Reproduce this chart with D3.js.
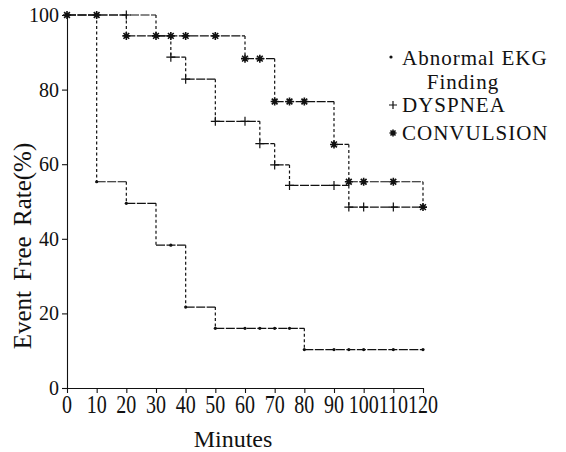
<!DOCTYPE html>
<html>
<head>
<meta charset="utf-8">
<script src="https://cdn.jsdelivr.net/npm/d3@7"></script>
<style>
  body { margin: 0; background: #fff; }
  svg { display: block; }
  text { font-family: "Liberation Serif", "DejaVu Serif", serif; fill: #111; }
</style>
</head>
<body>
<svg id="drawing_region"></svg>
<script>
// step data: time where each level starts, and the level (%)
const endTime = 120;

const ekgTimes  = [0, 10, 20, 30, 40, 50, 80];
const ekgValues = [100, 55.3, 49.5, 38.3, 21.7, 16, 10.3];
const ekgMarks  = [10, 20, 35, 40, 50, 60, 65, 70, 75, 80, 90, 95, 100, 110, 120];

const dysTimes  = [0, 30, 35, 40, 50, 65, 70, 75, 95];
const dysValues = [100, 94.4, 88.7, 82.8, 71.5, 65.5, 59.8, 54.3, 48.5];
const dysMarks  = [20, 35, 40, 50, 60, 65, 70, 75, 90, 95, 100, 110];

const conTimes  = [0, 20, 60, 70, 90, 95, 120];
const conValues = [100, 94.4, 88.3, 76.8, 65.3, 55.3, 48.5];
const conMarks  = [0, 10, 20, 30, 35, 40, 50, 60, 65, 70, 75, 80, 90, 95, 100, 110, 120];

const xTicks = [0, 10, 20, 30, 40, 50, 60, 70, 80, 90, 100, 110, 120];
const yTicks = [0, 20, 40, 60, 80, 100];

const legendNames = ['Abnormal EKG', 'Finding', 'DYSPNEA', 'CONVULSION'];

const config = { width: 566, height: 452 };

const svg = d3.select('#drawing_region')
    .attr('width', config.width)
    .attr('height', config.height);

const xscale = d3.scaleLinear().domain([0, 120]).range([67, 423]);
const yscale = d3.scaleLinear().domain([0, 100]).range([388, 15]);

// axes
const yaxis = d3.axisLeft(yscale).tickValues(yTicks).tickSize(5).tickSizeOuter(0).tickPadding(3);
const ygroup = svg.append('g').attr('transform', `translate(${xscale(0)},0)`).call(yaxis);
ygroup.selectAll('text').style('font-size', '20px').style('font-family', '"Liberation Serif", serif');

const xaxis = d3.axisBottom(xscale).tickValues(xTicks).tickSize(5).tickSizeOuter(0).tickFormat('');
svg.append('g').attr('transform', `translate(0,${yscale(0)})`).call(xaxis);

svg.selectAll('path.domain, .tick line').attr('stroke', '#111').attr('stroke-width', 1.1);

svg.append('g').selectAll('text')
    .data(xTicks)
    .join('text')
    .attr('transform', d => `translate(${xscale(d)},413) scale(1,1.22)`)
    .attr('text-anchor', 'middle')
    .style('font-size', '20px')
    .text(d => d);

svg.append('text')
    .attr('x', 233).attr('y', 447)
    .attr('text-anchor', 'middle')
    .style('font-size', '24px')
    .text('Minutes');

svg.append('text')
    .attr('transform', 'translate(31,246) rotate(-90)')
    .attr('text-anchor', 'middle')
    .style('font-size', '25px')
    .style('word-spacing', '4px')
    .text('Event Free Rate(%)');

// survival step curves
function levelAt(times, values, t) {
    let v = values[0];
    times.forEach((tt, i) => { if (tt <= t) v = values[i]; });
    return v;
}

function drawSteps(times, values) {
    const g = svg.append('g').attr('stroke', '#111').attr('stroke-width', 1.2).attr('fill', 'none');
    times.forEach((t, i) => {
        const t2 = i < times.length - 1 ? times[i + 1] : endTime;
        g.append('line')
            .attr('x1', xscale(t)).attr('x2', xscale(t2))
            .attr('y1', yscale(values[i])).attr('y2', yscale(values[i]))
            .attr('stroke-dasharray', '9,1.5');
        if (i < times.length - 1) {
            g.append('line')
                .attr('x1', xscale(t2)).attr('x2', xscale(t2))
                .attr('y1', yscale(values[i])).attr('y2', yscale(values[i + 1]))
                .attr('stroke-dasharray', '3,2.5');
        }
    });
}

drawSteps(ekgTimes, ekgValues);
drawSteps(dysTimes, dysValues);
drawSteps(conTimes, conValues);

// marker shapes
const plusPath = r => `M${-r},0H${r}M0,${-r}V${r}`;
const starPath = r => {
    const d = r * 0.72;
    return `M${-r},0H${r}M0,${-r}V${r}M${-d},${-d}L${d},${d}M${-d},${d}L${d},${-d}`;
};

svg.append('g').selectAll('circle')
    .data(ekgMarks)
    .join('circle')
    .attr('cx', d => xscale(d))
    .attr('cy', d => yscale(levelAt(ekgTimes, ekgValues, d)))
    .attr('r', 1.6)
    .attr('fill', '#111');

svg.append('g').selectAll('path')
    .data(dysMarks)
    .join('path')
    .attr('transform', d => `translate(${xscale(d)},${yscale(levelAt(dysTimes, dysValues, d))})`)
    .attr('d', plusPath(4.5))
    .attr('stroke', '#111').attr('stroke-width', 1.2);

svg.append('g').selectAll('path')
    .data(conMarks)
    .join('path')
    .attr('transform', d => `translate(${xscale(d)},${yscale(levelAt(conTimes, conValues, d))})`)
    .attr('d', starPath(4))
    .attr('stroke', '#111').attr('stroke-width', 1.6);

// legend
const legend = svg.append('g');
legend.append('circle').attr('cx', 391).attr('cy', 57).attr('r', 1.6).attr('fill', '#111');
legend.append('path').attr('transform', 'translate(393,105)').attr('d', plusPath(4))
    .attr('stroke', '#111').attr('stroke-width', 1.2);
legend.append('path').attr('transform', 'translate(393,133)').attr('d', starPath(3.5))
    .attr('stroke', '#111').attr('stroke-width', 1.6);

const legendPos = [[402, 65, 'start'], [463, 89, 'middle'], [402, 112, 'start'], [402, 140, 'start']];
legend.selectAll('text')
    .data(legendNames)
    .join('text')
    .attr('x', (d, i) => legendPos[i][0])
    .attr('y', (d, i) => legendPos[i][1])
    .attr('text-anchor', (d, i) => legendPos[i][2])
    .style('font-size', '21px')
    .style('letter-spacing', '1px')
    .text(d => d);
</script>
</body>
</html>
